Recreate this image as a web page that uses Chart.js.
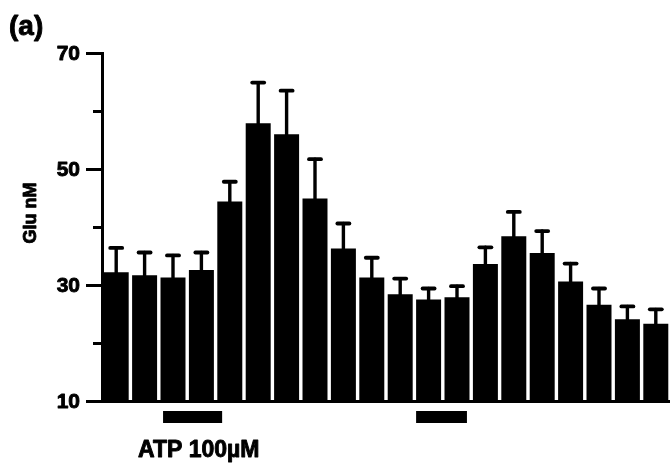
<!DOCTYPE html>
<html>
<head>
<meta charset="utf-8">
<script src="https://cdn.jsdelivr.net/npm/chart.js@4/dist/chart.umd.min.js"></script>
<style>
  html, body { margin: 0; padding: 0; background: #fff; }
  #c { display: block; }
</style>
</head>
<body>
<canvas id="c" width="670" height="467"></canvas>
<script>
// Successive collection samples (not labelled on the axis)
const samples = ['1','2','3','4','5','6','7','8','9','10','11','12','13','14','15','16','17','18','19','20'];
// Extracellular glutamate, mean per sample (nM)
const gluMean = [32.2, 31.7, 31.3, 32.6, 44.4, 57.9, 56.0, 44.9, 36.3, 31.3, 28.4, 27.5, 27.9, 33.6, 38.4, 35.5, 30.6, 26.6, 24.1, 23.3];
// Upper error (SEM) per sample (nM)
const gluSem = [4.2, 3.9, 3.8, 3.0, 3.4, 7.0, 7.5, 6.8, 4.3, 3.4, 2.7, 1.9, 1.9, 2.9, 4.2, 3.8, 3.1, 2.8, 2.2, 2.5];
// Labelled y ticks
const yTickLabels = [10, 30, 50, 70];
// ATP 100 µM application windows, in sample-index units
const atpWindows = [[1.65, 3.73], [10.56, 12.35]];

const FONT = "'Liberation Sans', Arial, Helvetica, sans-serif";

// Bold text with a thin outline so it reads as heavy print
function heavyText(ctx, text, x, y, font) {
  ctx.font = font;
  ctx.lineWidth = 0.9;
  ctx.lineJoin = 'round';
  ctx.strokeText(text, x, y);
  ctx.fillText(text, x, y);
}

const decorations = {
  id: 'decorations',
  afterDatasetsDraw(chart) {
    const ctx = chart.ctx;
    const y = chart.scales.y;
    const meta = chart.getDatasetMeta(0);
    ctx.save();
    ctx.strokeStyle = '#000';
    ctx.lineCap = 'round';
    meta.data.forEach((bar, i) => {
      const top = y.getPixelForValue(gluMean[i]);
      const cap = y.getPixelForValue(gluMean[i] + gluSem[i]);
      ctx.lineWidth = 3.4;
      ctx.beginPath();
      ctx.moveTo(bar.x, top + 2);
      ctx.lineTo(bar.x, cap);
      ctx.stroke();
      ctx.lineWidth = 3.8;
      ctx.beginPath();
      ctx.moveTo(bar.x - 6, cap);
      ctx.lineTo(bar.x + 6, cap);
      ctx.stroke();
    });
    ctx.restore();
  },
  afterDraw(chart) {
    const ctx = chart.ctx;
    const y = chart.scales.y;
    const x = chart.scales.x;
    const area = chart.chartArea;
    ctx.save();
    ctx.fillStyle = '#000';
    ctx.strokeStyle = '#000';

    // y tick marks: long on labelled values, short in between
    ctx.lineWidth = 3;
    ctx.lineCap = 'butt';
    y.ticks.forEach(t => {
      const py = Math.round(y.getPixelForValue(t.value)) + 0.5;
      const len = yTickLabels.includes(t.value) ? 16 : 9;
      ctx.beginPath();
      ctx.moveTo(area.left - len, py);
      ctx.lineTo(area.left, py);
      ctx.stroke();
    });

    // ATP application bars below the axis
    atpWindows.forEach(([a, b]) => {
      const x1 = x.getPixelForValue(a);
      const x2 = x.getPixelForValue(b);
      ctx.fillRect(x1, area.bottom + 10, x2 - x1, 12);
    });

    ctx.textAlign = 'left';
    ctx.textBaseline = 'alphabetic';
    heavyText(ctx, 'ATP 100\u00B5M', 138, 457, 'bold 23px ' + FONT);

    ctx.textBaseline = 'middle';
    heavyText(ctx, '(a)', 9, 27, 'bold 28px ' + FONT);

    // y axis title
    ctx.save();
    ctx.translate(31, 213);
    ctx.rotate(-Math.PI / 2);
    ctx.textAlign = 'center';
    ctx.textBaseline = 'middle';
    heavyText(ctx, 'Glu nM', 0, 0, 'bold 18px ' + FONT);
    ctx.restore();

    // y tick labels, drawn heavy at the labelled tick positions
    ctx.textAlign = 'right';
    ctx.textBaseline = 'middle';
    yTickLabels.forEach(v => {
      heavyText(ctx, String(v), area.left - 22, y.getPixelForValue(v) + 1, 'bold 21px ' + FONT);
    });

    ctx.restore();
  }
};

new Chart(document.getElementById('c'), {
  type: 'bar',
  data: {
    labels: samples,
    datasets: [{
      data: gluMean,
      backgroundColor: '#000',
      borderWidth: 0,
      barPercentage: 0.88,
      categoryPercentage: 1.0
    }]
  },
  options: {
    responsive: false,
    animation: false,
    devicePixelRatio: 1,
    layout: { padding: { left: 0, right: 0, top: 53, bottom: 66 } },
    plugins: { legend: { display: false }, tooltip: { enabled: false }, title: { display: false } },
    scales: {
      x: {
        ticks: { display: false },
        grid: { display: false, drawTicks: false },
        border: { display: true, color: '#000', width: 3 },
        afterFit(s) { s.height = 0; }
      },
      y: {
        min: 10,
        max: 70,
        afterFit(s) { s.width = 102; },
        ticks: {
          stepSize: 10,
          padding: 22,
          color: 'rgba(0,0,0,0)',
          font: { family: FONT, weight: 'bold', size: 21 },
          callback: v => yTickLabels.includes(v) ? String(v) : ''
        },
        grid: { display: false, drawTicks: false },
        border: { display: true, color: '#000', width: 3 }
      }
    }
  },
  plugins: [decorations]
});
</script>
</body>
</html>
